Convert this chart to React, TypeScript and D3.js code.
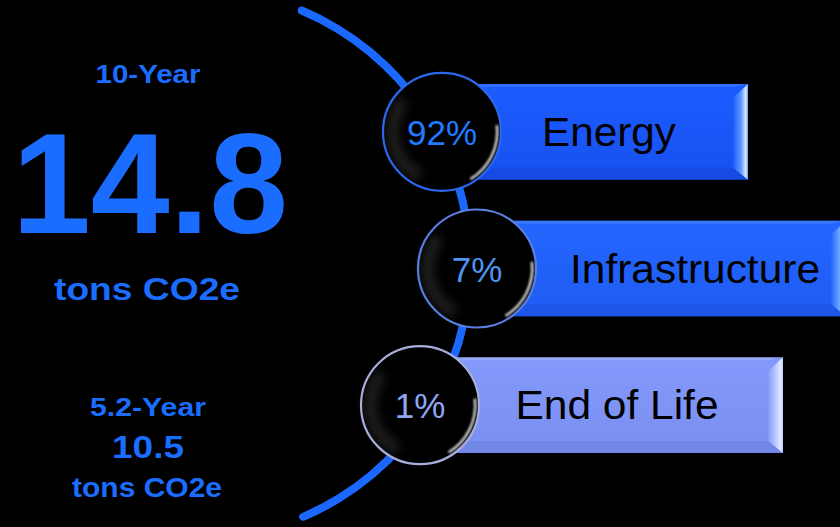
import React from "react";
import * as d3 from "d3";

// ---- data ----
const categories = ["Energy", "Infrastructure", "End of Life"];
const shares = [92, 7, 1];
const headlinePeriod = "10-Year";
const headlineValue = 14.8;
const secondaryPeriod = "5.2-Year";
const secondaryValue = 10.5;
const unitLabel = "tons CO2e";

// ---- styling / layout ----
const W = 840;
const H = 527;
const faceColors = ["#1c5cff", "#2466ff", "#8399fb"];
const faceLow = ["#1850f0", "#1f5cf2", "#7a8ff0"];
const darkColors = ["#1446d8", "#1a50dc", "#6a80dc"];
const lightColors = ["#5f9cff", "#6aa4ff", "#c0ccfd"];
const ringColors = ["#2a68ee", "#5a7ee0", "#a8aedb"];
const pctColors = ["#1f7bff", "#4f94ee", "#90a6f5"];
const circleX = [442, 477, 420];
const barRight = [748, 846, 783];
const labelX = [609, 695, 617];
const labelLen = [134, 250, 203];
const textBlue = "#1b6dff";

export default function App() {
  const y = d3.scaleBand<string>().domain(categories).range([84, 453]).paddingInner(0.3).paddingOuter(0);
  const bw = y.bandwidth();
  const r = 59;

  const arcCenter = [195, 264];
  const arcPath = d3
    .arc<any>()
    .innerRadius(271)
    .outerRadius(279)
    .cornerRadius(4)
    .startAngle(0.384)
    .endAngle(2.752)({} as any) as string;

  const highlight = d3.arc<any>().innerRadius(r - 5).outerRadius(r - 2.5).startAngle(1.45).endAngle(2.6)({} as any) as string;
  const shade = d3.arc<any>().innerRadius(r - 16).outerRadius(r - 3).startAngle(3.6).endAngle(5.4)({} as any) as string;

  const font = "'Liberation Sans', Arial, sans-serif";

  return (
    <svg width={W} height={H} style={{ position: "absolute", left: 0, top: 0, background: "#000" }}>
      <defs>
        <filter id="blur2" x="-20%" y="-20%" width="140%" height="140%">
          <feGaussianBlur stdDeviation="1.2" />
        </filter>
        <filter id="blur6" x="-30%" y="-30%" width="160%" height="160%">
          <feGaussianBlur stdDeviation="5" />
        </filter>
        {categories.map((c, i) => (
          <linearGradient key={c} id={`rb${i}`} x1="0" y1="0" x2="1" y2="0">
            <stop offset="0" stopColor={faceColors[i]} />
            <stop offset="0.55" stopColor={lightColors[i]} />
            <stop offset="0.85" stopColor="#dfeaff" />
            <stop offset="1" stopColor={lightColors[i]} />
          </linearGradient>
        ))}
        {categories.map((c, i) => (
          <linearGradient key={c} id={`face${i}`} x1="0" y1="0" x2="0" y2="1">
            <stop offset="0" stopColor={faceColors[i]} />
            <stop offset="1" stopColor={faceLow[i]} />
          </linearGradient>
        ))}
      </defs>
      <rect width={W} height={H} fill="#000" />

      {/* arc */}
      <path d={arcPath} transform={`translate(${arcCenter[0]},${arcCenter[1]})`} fill="#1a68ff" />

      {/* bars */}
      {categories.map((c, i) => {
        const x0 = circleX[i];
        const x1 = barRight[i];
        const y0 = y(c)!;
        const y1 = y0 + bw;
        const bT = 14;
        const bB = 12;
        const bR = 15;
        return (
          <g key={c}>
            <rect x={x0} y={y0} width={x1 - x0} height={bw} fill={`url(#face${i})`} />
            <polygon points={`${x0},${y0} ${x1},${y0} ${x1 - bR},${y0 + 3} ${x0},${y0 + 3}`} fill={lightColors[i]} opacity={0.3} />
            <polygon points={`${x0},${y1} ${x1},${y1} ${x1 - bR},${y1 - bB} ${x0},${y1 - bB}`} fill={darkColors[i]} opacity={0.55} />
            <polygon points={`${x1},${y0} ${x1},${y1} ${x1 - bR},${y1 - bB} ${x1 - bR},${y0 + bT}`} fill={`url(#rb${i})`} />
            <text
              x={labelX[i]}
              y={y0 + bw / 2 + 14}
              fontFamily={font}
              fontSize={40}
              textAnchor="middle"
              textLength={labelLen[i]}
              lengthAdjust="spacingAndGlyphs"
              fill="#000"
            >
              {c}
            </text>
          </g>
        );
      })}

      {/* circles */}
      {categories.map((c, i) => {
        const cx = circleX[i];
        const cy = y(c)! + bw / 2;
        return (
          <g key={c} transform={`translate(${cx},${cy})`}>
            <circle r={r} fill="#000" />
            <path d={shade} fill="#3a3a3a" opacity={0.5} filter="url(#blur6)" />
            <path d={highlight} fill="#ffffff" opacity={0.85} filter="url(#blur2)" />
            <circle r={r} fill="none" stroke={ringColors[i]} strokeWidth={2.2} />
            <text y={13} fontFamily={font} fontSize={35} textAnchor="middle" fill={pctColors[i]}>
              {`${shares[i]}%`}
            </text>
          </g>
        );
      })}

      {/* left summary */}
      <g fontFamily={font} fontWeight="bold" fill={textBlue} textAnchor="middle">
        <text x={148} y={83} fontSize={25} textLength={105} lengthAdjust="spacingAndGlyphs">
          {headlinePeriod}
        </text>
        <text x={150} y={233} fontSize={143} textLength={276} lengthAdjust="spacingAndGlyphs">
          {d3.format(".1f")(headlineValue)}
        </text>
        <text x={147} y={300} fontSize={32} textLength={186} lengthAdjust="spacingAndGlyphs">
          {unitLabel}
        </text>
        <text x={148} y={416} fontSize={25} textLength={116} lengthAdjust="spacingAndGlyphs">
          {secondaryPeriod}
        </text>
        <text x={148} y={458} fontSize={32} textLength={72} lengthAdjust="spacingAndGlyphs">
          {d3.format(".1f")(secondaryValue)}
        </text>
        <text x={147} y={497} fontSize={27} textLength={150} lengthAdjust="spacingAndGlyphs">
          {unitLabel}
        </text>
      </g>
    </svg>
  );
}
